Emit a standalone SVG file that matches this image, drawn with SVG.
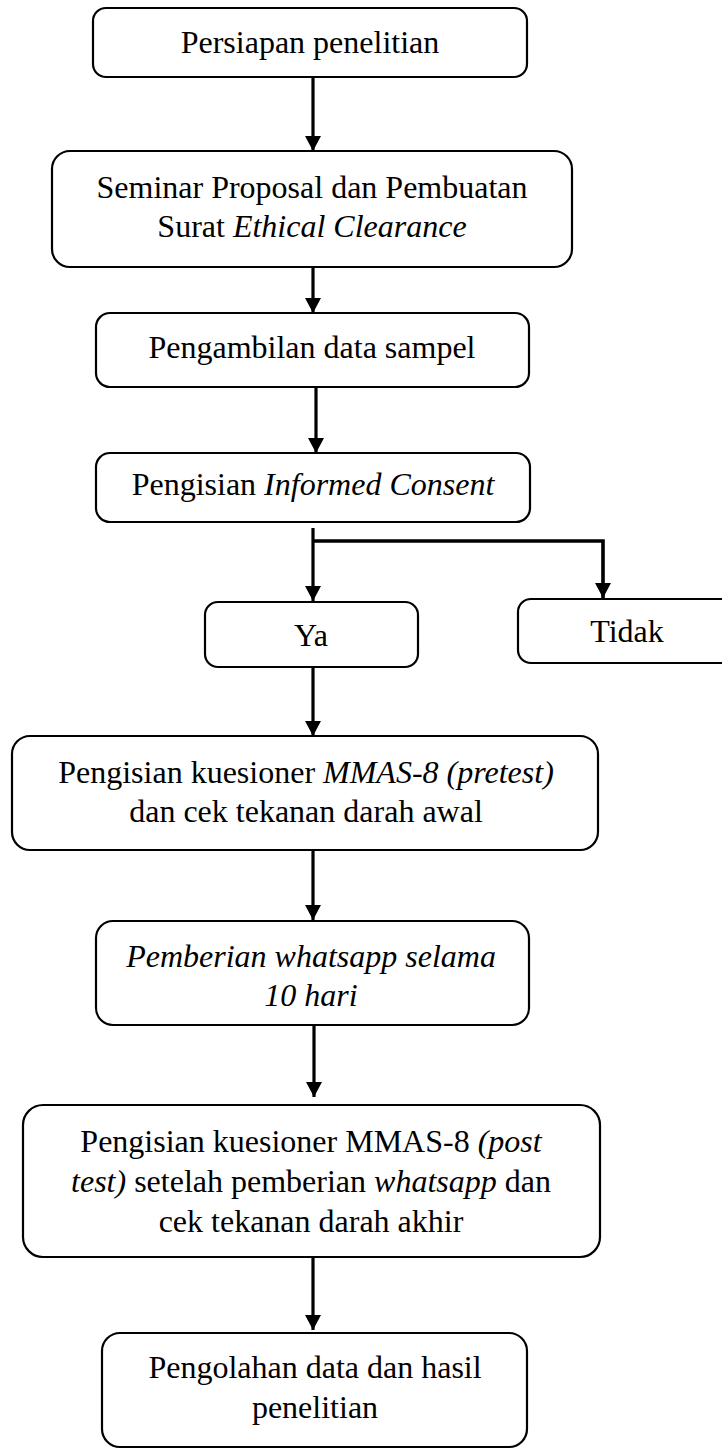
<svg xmlns="http://www.w3.org/2000/svg" width="722" height="1450" viewBox="0 0 722 1450">
<style>
.box{fill:#fff;stroke:#000;stroke-width:2.2}
.t{font-family:"Liberation Serif","Times New Roman",serif;font-size:32px;fill:#000;text-anchor:middle}
.i{font-style:italic}
.c{fill:none;stroke:#000;stroke-width:3.2}
</style>
<defs>
<marker id="ah" markerUnits="userSpaceOnUse" markerWidth="15" markerHeight="16" refX="15" refY="8" orient="auto">
<path d="M0,0 L15,8 L0,16 z" fill="#000"/>
</marker>
</defs>
<rect width="722" height="1450" fill="#fff"/>
<g id="connectors">
<line class="c" x1="313" y1="77" x2="313" y2="151" marker-end="url(#ah)"/>
<line class="c" x1="313" y1="267" x2="313" y2="313" marker-end="url(#ah)"/>
<line class="c" x1="316" y1="387" x2="316" y2="453" marker-end="url(#ah)"/>
<line class="c" x1="313" y1="528" x2="313" y2="601" marker-end="url(#ah)"/>
<polyline class="c" points="313,541 603,541 603,598" marker-end="url(#ah)" style="stroke-width:3.6"/>
<line class="c" x1="313" y1="667" x2="313" y2="736" marker-end="url(#ah)"/>
<line class="c" x1="313" y1="850" x2="313" y2="920" marker-end="url(#ah)"/>
<line class="c" x1="314" y1="1025" x2="314" y2="1097" marker-end="url(#ah)"/>
<line class="c" x1="313" y1="1257" x2="313" y2="1330" marker-end="url(#ah)"/>
</g>
<g id="n1">
<rect class="box" x="93" y="8" width="434" height="69" rx="13"/>
<text class="t" x="310" y="53">Persiapan penelitian</text>
</g>
<g id="n2">
<rect class="box" x="52" y="151" width="520" height="116" rx="18"/>
<text class="t" x="312" y="198">Seminar Proposal dan Pembuatan</text>
<text class="t" x="312" y="237">Surat <tspan class="i">Ethical Clearance</tspan></text>
</g>
<g id="n3">
<rect class="box" x="96" y="313" width="433" height="74" rx="14"/>
<text class="t" x="312" y="358">Pengambilan data sampel</text>
</g>
<g id="n4">
<rect class="box" x="96" y="453" width="434" height="69" rx="14"/>
<text class="t" x="313" y="495">Pengisian <tspan class="i">Informed Consent</tspan></text>
</g>
<g id="n5">
<rect class="box" x="205" y="602" width="213" height="65" rx="13"/>
<text class="t" x="311" y="646">Ya</text>
</g>
<g id="n6">
<rect class="box" x="518" y="599" width="230" height="64" rx="13"/>
<text class="t" x="627" y="642">Tidak</text>
</g>
<g id="n7">
<rect class="box" x="12" y="736" width="586" height="114" rx="18"/>
<text class="t" x="306" y="783">Pengisian kuesioner <tspan class="i">MMAS-8 (pretest)</tspan></text>
<text class="t" x="306" y="822">dan cek tekanan darah awal</text>
</g>
<g id="n8">
<rect class="box" x="96" y="921" width="433" height="104" rx="17"/>
<text class="t i" x="311" y="967">Pemberian whatsapp selama</text>
<text class="t i" x="311" y="1006">10 hari</text>
</g>
<g id="n9">
<rect class="box" x="23" y="1105" width="577" height="152" rx="20"/>
<text class="t" x="311" y="1152">Pengisian kuesioner MMAS-8 <tspan class="i">(post</tspan></text>
<text class="t" x="311" y="1192"><tspan class="i">test)</tspan> setelah pemberian <tspan class="i">whatsapp</tspan> dan</text>
<text class="t" x="311" y="1232">cek tekanan darah akhir</text>
</g>
<g id="n10">
<rect class="box" x="102" y="1333" width="425" height="114" rx="18"/>
<text class="t" x="315" y="1378">Pengolahan data dan hasil</text>
<text class="t" x="315" y="1418">penelitian</text>
</g>
</svg>
